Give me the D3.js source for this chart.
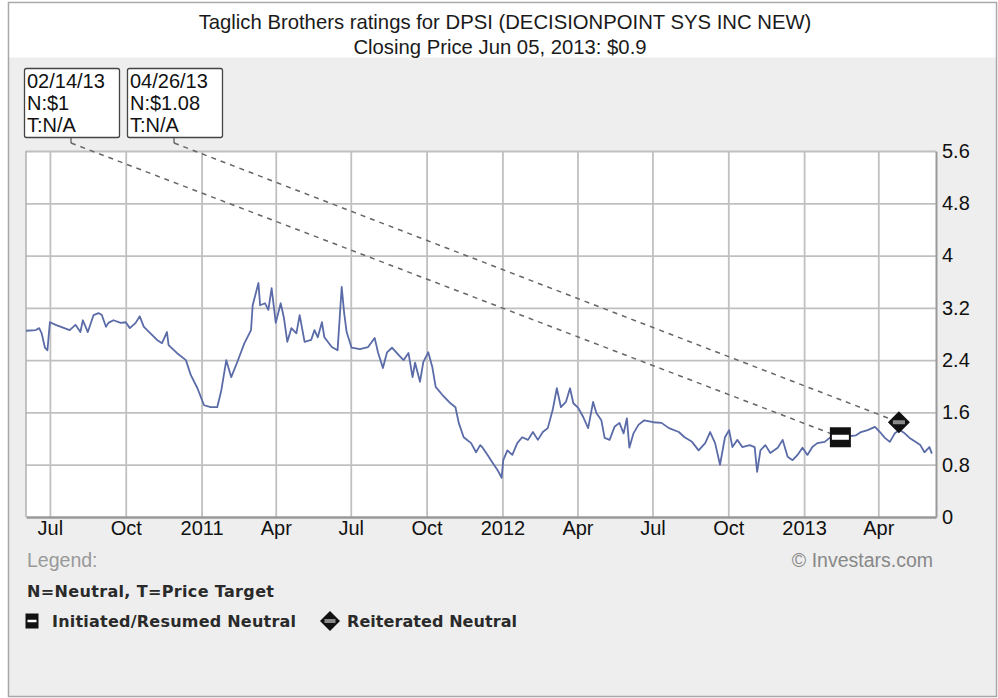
<!DOCTYPE html>
<html><head><meta charset="utf-8">
<script src="https://cdn.jsdelivr.net/npm/d3@7"></script>
<style>html,body{margin:0;padding:0;background:#fff;} svg{display:block;}</style>
</head><body><svg id="c" width="998" height="698"></svg>
<script>
const priceDates = ["2010-06-02","2010-06-14","2010-06-18","2010-06-21","2010-06-25","2010-06-28","2010-07-01","2010-07-08","2010-07-25","2010-08-01","2010-08-07","2010-08-10","2010-08-16","2010-08-23","2010-08-29","2010-09-02","2010-09-07","2010-09-10","2010-09-16","2010-09-25","2010-10-01","2010-10-06","2010-10-13","2010-10-18","2010-10-23","2010-10-31","2010-11-08","2010-11-14","2010-11-20","2010-11-22","2010-12-02","2010-12-13","2010-12-19","2010-12-27","2011-01-04","2011-01-12","2011-01-20","2011-01-25","2011-01-31","2011-02-06","2011-02-13","2011-02-22","2011-03-02","2011-03-04","2011-03-11","2011-03-13","2011-03-19","2011-03-23","2011-03-27","2011-04-01","2011-04-07","2011-04-11","2011-04-15","2011-04-20","2011-04-26","2011-04-30","2011-05-06","2011-05-14","2011-05-18","2011-05-22","2011-05-27","2011-05-30","2011-06-08","2011-06-15","2011-06-20","2011-06-23","2011-06-26","2011-07-02","2011-07-12","2011-07-22","2011-07-30","2011-08-03","2011-08-09","2011-08-14","2011-08-20","2011-08-28","2011-09-03","2011-09-09","2011-09-14","2011-09-17","2011-09-23","2011-09-27","2011-10-03","2011-10-08","2011-10-12","2011-10-20","2011-10-30","2011-11-05","2011-11-09","2011-11-15","2011-11-24","2011-11-30","2011-12-05","2011-12-08","2011-12-14","2011-12-20","2011-12-26","2011-12-31","2012-01-02","2012-01-07","2012-01-13","2012-01-19","2012-01-25","2012-02-01","2012-02-07","2012-02-13","2012-02-19","2012-02-25","2012-03-02","2012-03-07","2012-03-12","2012-03-18","2012-03-23","2012-03-27","2012-04-02","2012-04-08","2012-04-14","2012-04-20","2012-04-24","2012-04-30","2012-05-04","2012-05-10","2012-05-16","2012-05-22","2012-05-27","2012-05-31","2012-06-03","2012-06-08","2012-06-14","2012-06-21","2012-07-02","2012-07-12","2012-07-21","2012-08-02","2012-08-09","2012-08-18","2012-08-26","2012-09-03","2012-09-09","2012-09-15","2012-09-21","2012-09-27","2012-10-02","2012-10-06","2012-10-12","2012-10-18","2012-10-27","2012-11-02","2012-11-05","2012-11-09","2012-11-15","2012-11-21","2012-11-30","2012-12-06","2012-12-12","2012-12-18","2012-12-24","2012-12-30","2013-01-05","2013-01-11","2013-01-17","2013-01-26","2013-02-01","2013-02-07","2013-02-14","2013-03-05","2013-03-11","2013-03-19","2013-03-28","2013-04-03","2013-04-09","2013-04-15","2013-04-21","2013-04-27","2013-05-03","2013-05-09","2013-05-16","2013-05-22","2013-05-27","2013-06-02","2013-06-05"];
const priceValues = [2.85,2.86,2.89,2.81,2.59,2.55,2.98,2.94,2.86,2.94,2.83,3.01,2.83,3.09,3.12,3.09,2.91,2.97,3.01,2.97,2.98,2.89,2.97,3.07,2.91,2.81,2.71,2.66,2.83,2.63,2.51,2.40,2.17,1.97,1.71,1.68,1.68,1.94,2.40,2.14,2.36,2.66,2.86,3.24,3.58,3.24,3.27,3.17,3.50,2.97,3.27,3.04,2.68,2.89,2.81,3.09,2.68,2.71,2.86,2.75,2.98,2.75,2.60,2.55,3.52,3.12,2.83,2.59,2.57,2.60,2.74,2.52,2.28,2.52,2.59,2.48,2.40,2.51,2.14,2.36,2.07,2.37,2.52,2.29,1.99,1.87,1.74,1.68,1.44,1.22,1.13,0.99,1.10,1.06,0.95,0.83,0.72,0.60,0.87,1.02,0.95,1.13,1.22,1.18,1.30,1.18,1.30,1.36,1.64,1.97,1.68,1.76,1.97,1.74,1.67,1.53,1.36,1.76,1.59,1.48,1.21,1.18,1.38,1.44,1.28,1.51,1.06,1.28,1.41,1.48,1.45,1.44,1.36,1.30,1.22,1.15,1.02,1.13,1.30,1.13,0.80,1.22,1.33,1.07,1.18,1.07,1.10,1.07,0.69,1.02,1.10,0.98,1.06,1.18,0.92,0.87,0.95,1.06,0.95,1.07,1.13,1.15,1.21,1.22,1.22,1.25,1.30,1.33,1.38,1.30,1.21,1.15,1.28,1.33,1.28,1.21,1.15,1.10,0.99,1.07,0.97];

const ratingDates = ["2013-02-14","2013-04-26"];
const ratingTypes = ["initiated","reiterated"];
const ratingMarkerValues = [1.22,1.45];
const ratingDateLabels = ["02/14/13","04/26/13"];
const ratingNeutralPrices = ["N:$1","N:$1.08"];
const ratingTargets = ["T:N/A","T:N/A"];

const xTickDates = ["2010-07-01","2010-10-01","2011-01-01","2011-04-01","2011-07-01","2011-10-01","2012-01-01","2012-04-01","2012-07-01","2012-10-01","2013-01-01","2013-04-01"];
const xTickLabels = ["Jul","Oct","2011","Apr","Jul","Oct","2012","Apr","Jul","Oct","2013","Apr"];
const yTickValues = [0,0.8,1.6,2.4,3.2,4,4.8,5.6];
const yTickLabels = ["0","0.8","1.6","2.4","3.2","4","4.8","5.6"];

const titleLines = ["Taglich Brothers ratings for DPSI (DECISIONPOINT SYS INC NEW)","Closing Price Jun 05, 2013: $0.9"];

const parse = d3.timeParse("%Y-%m-%d");
const FONT = "'Liberation Sans', Arial, sans-serif";
const svg = d3.select("#c");

// frame
svg.append("rect").attr("x",8.5).attr("y",2.5).attr("width",988).attr("height",694)
  .attr("fill","#eeeeee").attr("stroke","#a8a8a8").attr("stroke-width",1.5);
svg.append("rect").attr("x",9.5).attr("y",3.5).attr("width",986).attr("height",54).attr("fill","#ffffff");

svg.selectAll("text.title").data(titleLines).enter().append("text")
  .attr("x",(d,i)=> i===0?505:500).attr("y",(d,i)=>29+i*25)
  .attr("text-anchor","middle").attr("font-family",FONT).attr("font-size",20.3)
  .attr("fill","#1a1a1a").text(d=>d);

const L=26, R=936, T=151, B=517;
const x = d3.scaleTime().domain([parse("2010-06-02"), parse("2013-06-10")]).range([L,R]);
const y = d3.scaleLinear().domain([0,5.6]).range([B,T]);

svg.append("rect").attr("x",L).attr("y",T).attr("width",R-L).attr("height",B-T).attr("fill","#fff");

// grid
const gx = svg.append("g").attr("transform",`translate(0,${B})`)
  .call(d3.axisBottom(x).tickValues(xTickDates.map(parse)).tickSize(-(B-T)).tickFormat(""));
gx.select(".domain").remove();
gx.selectAll("line").attr("stroke","#c0c0c0").attr("stroke-width",1.8);
const gy = svg.append("g").attr("transform",`translate(${L},0)`)
  .call(d3.axisLeft(y).tickValues(yTickValues.slice(1)).tickSize(-(R-L)).tickFormat(""));
gy.select(".domain").remove();
gy.selectAll("line").attr("stroke","#c0c0c0").attr("stroke-width",1.8);

// borders
svg.append("line").attr("x1",L).attr("x2",L).attr("y1",T).attr("y2",B).attr("stroke","#b0b0b0").attr("stroke-width",1.5);

// axes labels
const ax = svg.append("g").attr("transform",`translate(0,${B})`)
  .call(d3.axisBottom(x).tickValues(xTickDates.map(parse)).tickSize(0).tickPadding(4)
  .tickFormat((d,i)=>xTickLabels[i]));
ax.select(".domain").attr("stroke","#999").attr("stroke-width",2.5);
ax.selectAll("text").attr("font-family",FONT).attr("font-size",20).attr("fill","#111");

const ay = svg.append("g").attr("transform",`translate(${R},0)`)
  .call(d3.axisRight(y).tickValues(yTickValues).tickSize(0).tickPadding(6)
  .tickFormat((d,i)=>yTickLabels[i]));
ay.select(".domain").attr("stroke","#999").attr("stroke-width",2);
ay.selectAll("text").attr("font-family",FONT).attr("font-size",20).attr("fill","#111");

// price line
const pts = priceDates.map((d,i)=>({date:parse(d), v:priceValues[i]}));
svg.append("path").datum(pts).attr("fill","none").attr("stroke","#5a6ba8").attr("stroke-width",1.8)
  .attr("stroke-linejoin","round")
  .attr("d", d3.line().x(d=>x(d.date)).y(d=>y(d.v)));

// rating boxes + dashed connectors
const boxW=95, boxH=69, boxY=68;
ratingDates.forEach((dt,i)=>{
  const bx = 24 + i*103;
  const cx = bx + 47;
  const mx = x(parse(dt)), my = y(ratingMarkerValues[i]);
  svg.append("line").attr("x1",cx).attr("y1",143).attr("x2",mx).attr("y2",my)
    .attr("stroke","#666").attr("stroke-width",1.5).attr("stroke-dasharray","5,5");
  svg.append("line").attr("x1",cx).attr("x2",cx).attr("y1",boxY+boxH).attr("y2",143)
    .attr("stroke","#555").attr("stroke-width",1.2);
  svg.append("rect").attr("x",bx+0.5).attr("y",boxY+0.5).attr("width",boxW).attr("height",boxH)
    .attr("rx",2).attr("fill","#fff").attr("stroke","#444").attr("stroke-width",1.3);
  [ratingDateLabels[i], ratingNeutralPrices[i], ratingTargets[i]].forEach((t,j)=>{
    svg.append("text").attr("x",bx+3).attr("y",boxY+20+j*22)
      .attr("font-family",FONT).attr("font-size",20).attr("fill","#111").text(t);
  });
});

function drawSquare(g, cx, cy, w, h, bar){
  g.append("rect").attr("x",cx-w/2).attr("y",cy-h/2).attr("width",w).attr("height",h).attr("fill","#111");
  g.append("rect").attr("x",cx-w/2+2).attr("y",cy-bar/2).attr("width",w-4).attr("height",bar).attr("fill","#fff");
}
function drawDiamond(g, cx, cy, r){
  g.append("path").attr("d",`M${cx},${cy-r}L${cx+r},${cy}L${cx},${cy+r}L${cx-r},${cy}Z`).attr("fill","#111");
  g.append("rect").attr("x",cx-r*0.55).attr("y",cy-2).attr("width",r*1.1).attr("height",4).attr("fill","#8a8a8a");
}
ratingDates.forEach((dt,i)=>{
  const mx = x(parse(dt)), my = y(ratingMarkerValues[i]);
  if (ratingTypes[i]==="initiated") drawSquare(svg, mx, my, 21, 20, 5);
  else drawDiamond(svg, mx, my, 11);
});

// legend
svg.append("text").attr("x",27).attr("y",567).attr("font-family",FONT).attr("font-size",19.5)
  .attr("fill","#999").text("Legend:");
svg.append("text").attr("x",933).attr("y",567).attr("text-anchor","end").attr("font-family",FONT)
  .attr("font-size",19.5).attr("fill","#888").text("\u00A9 Investars.com");
const LF = "'DejaVu Sans', Verdana, sans-serif";
svg.append("text").attr("x",27).attr("y",597).attr("font-family",LF).attr("font-size",16)
  .attr("font-weight","bold").attr("fill","#2a2a2a").attr("textLength",247).attr("lengthAdjust","spacing")
  .text("N=Neutral, T=Price Target");
drawSquare(svg, 32, 621, 13, 15, 2.5);
svg.append("text").attr("x",52).attr("y",627).attr("font-family",LF).attr("font-size",16)
  .attr("font-weight","bold").attr("fill","#2a2a2a").attr("textLength",244).attr("lengthAdjust","spacing")
  .text("Initiated/Resumed Neutral");
drawDiamond(svg, 330, 621, 10);
svg.append("text").attr("x",347).attr("y",627).attr("font-family",LF).attr("font-size",16)
  .attr("font-weight","bold").attr("fill","#2a2a2a").attr("textLength",170).attr("lengthAdjust","spacing")
  .text("Reiterated Neutral");
</script></body></html>
